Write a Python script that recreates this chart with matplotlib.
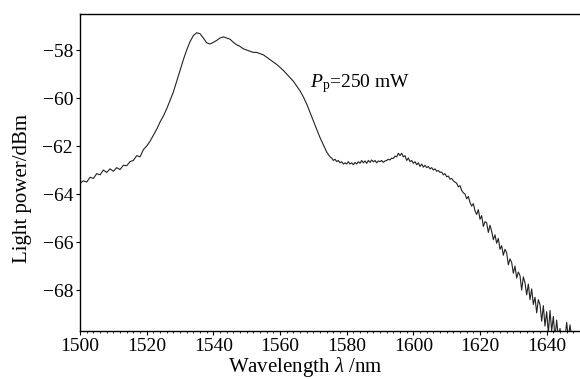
import numpy as np
import matplotlib
matplotlib.use("Agg")
import matplotlib.pyplot as plt
from matplotlib.ticker import MultipleLocator

plt.rcParams['font.family'] = ['Liberation Serif', 'DejaVu Serif']
plt.rcParams['mathtext.fontset'] = 'custom'
plt.rcParams['mathtext.rm'] = 'Liberation Serif'
plt.rcParams['mathtext.it'] = 'Liberation Serif:italic'

# Segment A: 1500..1574 nm, 1 nm step
wl_a = np.arange(1500, 1575, 1.0)
power_a = [-63.55, -63.45, -63.5, -63.3, -63.35, -63.15, -63.2, -63.0, -63.1, -62.95,
           -63.05, -62.9, -62.98, -62.8, -62.82, -62.65, -62.6, -62.4, -62.45, -62.15,
           -62.0, -61.8, -61.55, -61.3, -61.0, -60.75, -60.45, -60.1, -59.75, -59.3,
           -58.85, -58.4, -58.0, -57.65, -57.4, -57.28, -57.32, -57.5, -57.7, -57.75,
           -57.68, -57.6, -57.5, -57.45, -57.5, -57.55, -57.68, -57.78, -57.85, -57.95,
           -58.0, -58.05, -58.1, -58.1, -58.15, -58.2, -58.3, -58.4, -58.5, -58.6,
           -58.72, -58.85, -59.0, -59.15, -59.3, -59.5, -59.7, -59.95, -60.25, -60.6,
           -60.95, -61.3, -61.65, -61.95, -62.25]

# Segment B: 1575.0..1611.5 nm, 0.5 nm step
wl_b = np.arange(1575, 1612, 0.5)
power_b = [-62.45, -62.5, -62.6, -62.55, -62.65, -62.6, -62.7, -62.65, -62.75, -62.7,
           -62.75, -62.65, -62.75, -62.7, -62.78, -62.68, -62.75, -62.65, -62.72, -62.6,
           -62.7, -62.62, -62.72, -62.6, -62.68, -62.58, -62.66, -62.6, -62.7, -62.62,
           -62.65, -62.6, -62.68, -62.62, -62.6, -62.55, -62.58, -62.5, -62.52, -62.42,
           -62.45, -62.3, -62.4, -62.3, -62.45, -62.4, -62.6, -62.5, -62.65, -62.6,
           -62.72, -62.65, -62.78, -62.7, -62.85, -62.75, -62.88, -62.8, -62.9, -62.85,
           -62.95, -62.9, -63.0, -62.95, -63.05, -63.02, -63.1, -63.08, -63.2, -63.15,
           -63.28, -63.25, -63.38, -63.35]

# Segment C: 1612.0..1648.0 nm, 0.5 nm step
wl_c = np.arange(1612, 1648.5, 0.5)
power_c = [-63.45, -63.5, -63.55, -63.7, -63.65, -63.85, -63.95, -64.0, -64.2, -64.1,
           -64.35, -64.5, -64.4, -64.7, -64.85, -64.65, -65.05, -64.9, -65.35, -65.15,
           -65.2, -65.6, -65.3, -65.55, -65.9, -65.7, -66.05, -65.85, -66.3, -66.15,
           -66.55, -66.3, -66.45, -66.95, -66.7, -66.85, -67.3, -67.0, -67.5, -67.25,
           -67.4, -68.0, -67.45, -67.7, -68.2, -67.75, -68.4, -67.95, -68.6, -68.3,
           -68.95, -68.4, -68.6, -69.3, -68.65, -69.5, -68.9, -69.8, -68.85, -69.7,
           -69.1, -70.0, -69.25, -70.0, -69.6, -70.0, -69.75, -70.0, -69.35, -70.0,
           -69.45, -70.0, -69.9]

# Segment D: end
wl_d = [1649.0, 1650.0]
power_d = [-70.0, -70.0]

wavelength = np.concatenate([wl_a, wl_b, wl_c, wl_d])
power = np.concatenate([power_a, power_b, power_c, power_d])

x_ticks = [1500, 1520, 1540, 1560, 1580, 1600, 1620, 1640]
y_ticks = [-58, -60, -62, -64, -66, -68]

fig = plt.figure(figsize=(5.8, 3.79), dpi=100)
ax = fig.add_axes([0.138, 0.127, 0.862, 0.836])
ax.plot(wavelength, power, color='#222222', lw=0.8)
ax.set_xlim(1500, 1650)
ax.set_ylim(-69.7, -56.5)
ax.set_xticks(x_ticks)
ax.set_yticks(y_ticks)
ax.set_yticklabels(['\u2212%d' % abs(v) for v in y_ticks])
ax.xaxis.set_minor_locator(MultipleLocator(2))
ax.tick_params(axis='both', which='major', direction='out', length=3, width=0.8, labelsize=14, pad=2)
ax.tick_params(axis='x', which='minor', direction='out', length=1.5, width=0.6)
ax.spines['right'].set_visible(False)
for s in ['top', 'left', 'bottom']:
    ax.spines[s].set_linewidth(1.0)

ax.set_xlabel('Wavelength $\\it{\\lambda}$ /nm', fontsize=15, labelpad=0)
ax.xaxis.set_label_coords(0.45, -0.077)
ax.set_ylabel('Light power/dBm', fontsize=15)
ax.yaxis.set_label_coords(-0.096, 0.448)
ax.text(1569, -59.54, '$P_\\mathrm{p}$=250 mW', fontsize=14)

fig.savefig('out.png', dpi=100)
